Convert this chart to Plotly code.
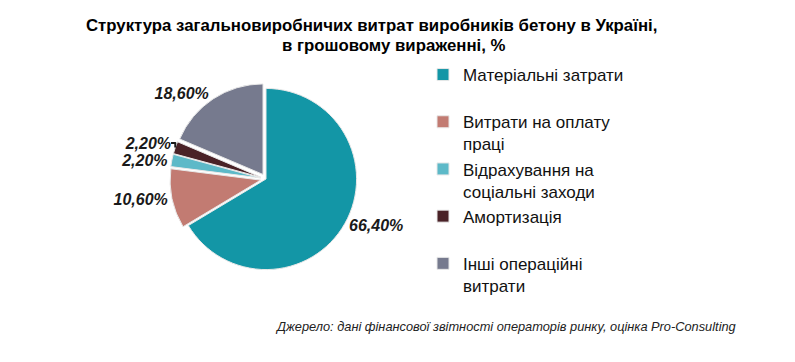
import plotly.graph_objects as go

categories = ["Матеріальні затрати", "Витрати на оплату праці", "Відрахування на соціальні заходи", "Амортизація", "Інші операційні витрати"]
legend_labels = ["Матеріальні затрати<br> ", "Витрати на оплату<br>праці", "Відрахування на<br>соціальні заходи", "Амортизація<br> ", "Інші операційні<br>витрати"]
values = [66.4, 10.6, 2.2, 2.2, 18.6]
colors = ["#1396A6", "#C27B72", "#5DB9C8", "#4A2227", "#767A8E"]
pulls = [0, 0.06, 0.06, 0.06, 0.06]

title_line1 = "Структура загальновиробничих витрат виробників бетону в Україні,"
title_line2 = "в грошовому вираженні, %"
source = "Джерело: дані фінансової звітності операторів ринку, оцінка Pro-Consulting"

W, H = 795, 362
cx, cy, r = 258, 171, 96

fig = go.Figure(go.Pie(
    labels=legend_labels,
    values=values,
    sort=False,
    direction="clockwise",
    rotation=0,
    pull=pulls,
    marker=dict(colors=colors, line=dict(color="#E8E8E8", width=1)),
    textposition="outside",
    texttemplate="<b><i>%{value:.2f}%</i></b>",
    textfont=dict(family="Liberation Sans, Arial", size=16, color="#1A1A1A"),
    domain=dict(x=[(cx - r) / W, (cx + r) / W], y=[(H - cy - r) / H, (H - cy + r) / H]),
    hoverinfo="label+percent",
))

fig.update_layout(
    width=W, height=H,
    margin=dict(l=0, r=0, t=0, b=0),
    paper_bgcolor="white",
    separators=",.",
    font=dict(family="Liberation Sans, Arial", color="#000000"),
    legend=dict(x=415 / W, xanchor="left", y=1 - 49 / H, yanchor="top",
                font=dict(size=17, color="#111111"), valign="top",
                bgcolor="rgba(0,0,0,0)"),
    annotations=[
        dict(text="<b>" + title_line1 + "</b>", x=363 / W, y=1 - 17 / H, xref="paper", yref="paper",
             xanchor="center", yanchor="middle", showarrow=False, font=dict(size=16.8, color="#000000")),
        dict(text="<b>" + title_line2 + "</b>", x=386 / W, y=1 - 37 / H, xref="paper", yref="paper",
             xanchor="center", yanchor="middle", showarrow=False, font=dict(size=16.8, color="#000000")),
        dict(text="<i>" + source + "</i>", x=730 / W, y=1 - 318 / H, xref="paper", yref="paper",
             xanchor="right", yanchor="middle", showarrow=False, font=dict(size=12.8, color="#222222")),
    ],
)

fig.write_html("out.html")
